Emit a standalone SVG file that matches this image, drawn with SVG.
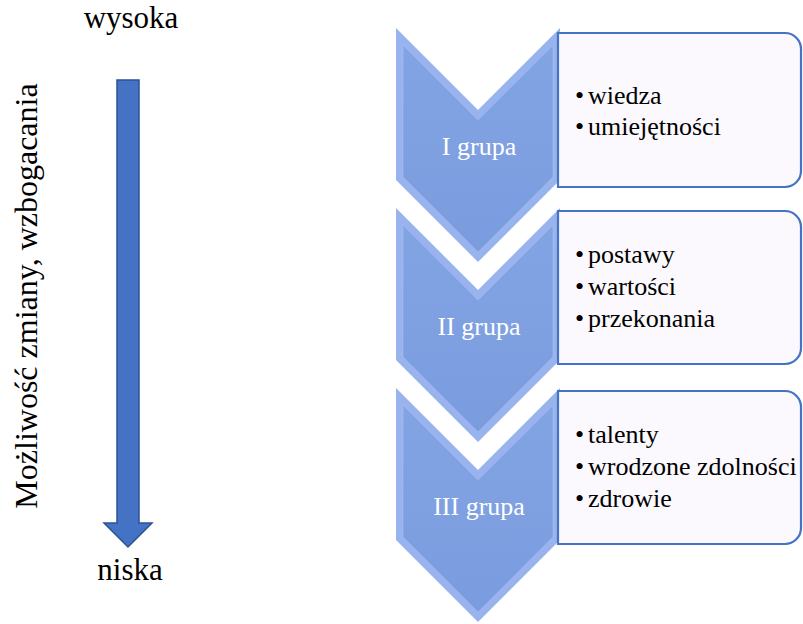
<svg xmlns="http://www.w3.org/2000/svg" width="803" height="624" viewBox="0 0 803 624">
  <defs>
    <linearGradient id="faceGrad" x1="0" y1="0" x2="0" y2="1">
      <stop offset="0" stop-color="#83a4e3"/>
      <stop offset="1" stop-color="#7a9cdf"/>
    </linearGradient>
    <style>
      .serif { font-family: "Liberation Serif", "Times New Roman", serif; }
      .axis { font-size: 31px; fill: #000000; }
      .vert { font-size: 32px; fill: #000000; }
      .label { font-size: 26px; fill: #ffffff; text-anchor: middle; }
      .item { font-size: 26px; fill: #000000; }
      .bevel { fill: #98b3ed; }
      .face { fill: url(#faceGrad); stroke: #b8cbf4; stroke-width: 0.8; stroke-opacity: 0.5; }
      .box { fill: #fbf9fe; stroke: #4472c4; stroke-width: 2.2; }
      .arrow { fill: #4472c4; stroke: #2f528f; stroke-width: 1.5; }
    </style>
    <!-- chevron outline and inner face, origin at top-left corner -->
    <polygon id="chevOuter" points="0,0 82,82 164,0 164,152 82,234 0,152"/>
    <polygon id="chevInner" points="7,16.9 82,91.9 157,16.9 157,149.1 82,224.1 7,149.1"/>
  </defs>

  <!-- left scale: direction of change -->
  <g id="scale">
    <text class="serif axis" x="131" y="28" text-anchor="middle">wysoka</text>
    <text class="serif vert" transform="translate(37,296) rotate(-90)" text-anchor="middle">Możliwość zmiany, wzbogacania</text>
    <text class="serif axis" x="130" y="580" text-anchor="middle">niska</text>
  </g>

  <g id="connectors">
    <path class="arrow" d="M117,80 H139 V523 H152 L128,547 L104,523 H117 Z"/>
  </g>

  <!-- group I -->
  <g id="group1">
    <use href="#chevOuter" class="bevel" x="396" y="28"/>
    <use href="#chevInner" class="face" x="396" y="28"/>
    <text class="serif label" x="479" y="155">I grupa</text>
    <path class="box" d="M558,33 H785 A16,16 0 0 1 801,49 V171 A16,16 0 0 1 785,187 H558 Z"/>
    <g class="serif item">
      <text x="575" y="104">•</text><text x="588" y="104">wiedza</text>
      <text x="575" y="135">•</text><text x="588" y="135">umiejętności</text>
    </g>
  </g>

  <!-- group II -->
  <g id="group2">
    <use href="#chevOuter" class="bevel" x="396" y="208"/>
    <use href="#chevInner" class="face" x="396" y="208"/>
    <text class="serif label" x="479" y="335">II grupa</text>
    <path class="box" d="M558,211 H785 A16,16 0 0 1 801,227 V348 A16,16 0 0 1 785,364 H558 Z"/>
    <g class="serif item">
      <text x="575" y="263">•</text><text x="588" y="263">postawy</text>
      <text x="575" y="295">•</text><text x="588" y="295">wartości</text>
      <text x="575" y="327">•</text><text x="588" y="327">przekonania</text>
    </g>
  </g>

  <!-- group III -->
  <g id="group3">
    <use href="#chevOuter" class="bevel" x="396" y="388"/>
    <use href="#chevInner" class="face" x="396" y="388"/>
    <text class="serif label" x="479" y="515">III grupa</text>
    <path class="box" d="M558,391 H785 A16,16 0 0 1 801,407 V528 A16,16 0 0 1 785,544 H558 Z"/>
    <g class="serif item">
      <text x="575" y="443">•</text><text x="588" y="443">talenty</text>
      <text x="575" y="475">•</text><text x="588" y="475">wrodzone zdolności</text>
      <text x="575" y="507">•</text><text x="588" y="507">zdrowie</text>
    </g>
  </g>
</svg>
